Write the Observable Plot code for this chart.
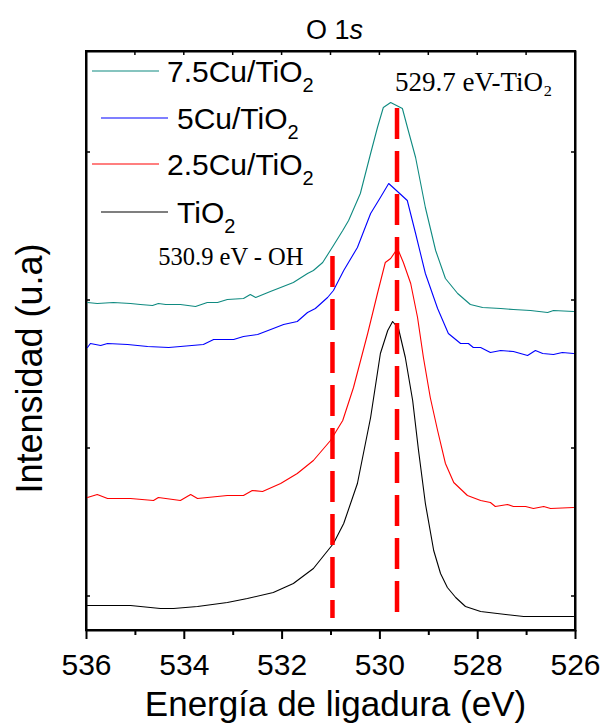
<!DOCTYPE html>
<html><head><meta charset="utf-8">
<script src="https://cdn.jsdelivr.net/npm/d3@7"></script>
<script src="https://cdn.jsdelivr.net/npm/@observablehq/plot@0.6"></script>
<style>html,body{margin:0;padding:0;background:#fff;}</style>
</head><body><div id="chart"></div>
<script>
// ---- data (binding energy in eV, intensity in arbitrary units) ----
const seriesNames = ["7.5Cu/TiO", "5Cu/TiO", "2.5Cu/TiO", "TiO"];
const seriesColors = ["#0f8a80", "#0000ff", "#ff0000", "#000000"];

const cu75E = [535.98,535.78,535.45,535.10,534.90,534.65,534.53,534.38,534.08,533.77,533.53,533.32,533.12,532.79,532.65,532.54,532.24,532.03,531.77,531.48,531.36,531.17,530.95,530.76,530.64,530.40,530.19,530.05,529.93,529.78,529.54,529.42,529.27,529.07,528.86,528.66,528.41,528.15,527.90,527.53,527.27,526.92,526.57,526.45,526.04];
const cu75I = [3280,3270,3280,3270,3260,3250,3270,3260,3260,3240,3280,3280,3310,3320,3360,3330,3390,3430,3480,3570,3600,3680,3850,4000,4100,4370,4770,5030,5230,5280,5220,5000,4730,4230,3800,3520,3370,3260,3230,3220,3210,3200,3180,3200,3190];

const cu5E = [535.98,535.92,535.71,535.57,535.16,534.75,534.32,534.08,533.61,533.40,532.99,532.79,532.50,532.18,531.97,531.69,531.48,531.32,531.07,530.95,530.74,530.46,530.19,529.99,529.82,529.64,529.44,529.27,529.07,528.82,528.60,528.35,528.19,528.09,527.94,527.74,527.53,527.27,526.98,526.82,526.67,526.45,526.27,526.04];
const cu5I = [2830,2870,2850,2870,2860,2840,2830,2840,2860,2910,2910,2940,2960,3020,3060,3090,3180,3220,3330,3400,3600,3830,4170,4330,4470,4390,4300,3970,3570,3220,2970,2870,2870,2830,2830,2780,2800,2790,2750,2800,2770,2760,2780,2770];

const cu25E = [535.98,535.78,535.57,535.10,534.63,534.53,534.08,533.87,533.73,533.12,532.79,532.61,532.40,532.03,531.69,531.36,531.01,530.76,530.54,530.25,530.05,529.89,529.78,529.64,529.52,529.37,529.23,529.11,528.97,528.82,528.66,528.49,528.21,527.94,527.74,527.64,527.39,527.27,527.02,526.86,526.65,526.51,526.04];
const cu25I = [1330,1360,1320,1320,1300,1330,1300,1360,1320,1350,1350,1400,1390,1470,1570,1700,1900,2100,2430,2970,3370,3680,3720,3820,3680,3470,3130,2730,2330,2000,1670,1480,1350,1300,1280,1240,1260,1240,1240,1220,1240,1220,1230];

const tio2E = [535.98,535.10,534.49,534.22,533.73,533.12,532.71,532.18,531.77,531.36,530.95,530.74,530.46,530.19,529.99,529.84,529.74,529.62,529.48,529.33,529.21,529.07,528.90,528.76,528.62,528.45,528.25,527.94,527.60,527.06,526.57,526.04];
const tio2I = [250,250,220,220,240,280,320,380,470,620,870,1070,1470,2130,2770,3000,3090,3020,2730,2300,1800,1270,800,570,430,330,240,190,170,140,140,140];

const xDomain = [536, 526];
const yDomain = [0, 5790];
const xMajorTicks = [536, 534, 532, 530, 528, 526];
const xMinorTicks = [535, 533, 531, 529, 527];
const yTicks = [340, 1820, 3300, 4780];

const refE = [529.65, 530.97];
const refTop = [5220, 3740];
const refBottom = [70, 120];
const refLabels = ["529.7 eV-TiO₂", "530.9 eV - OH"];

// ---- build tables ----
const toRows = (E, I) => E.map((e, i) => ({E: e, I: I[i]}));
const series = [toRows(cu75E, cu75I), toRows(cu5E, cu5I), toRows(cu25E, cu25I), toRows(tio2E, tio2I)];
const refs = refE.map((e, i) => ({E: e, top: refTop[i], bottom: refBottom[i], label: refLabels[i]}));

const sans = "'Liberation Sans', Arial, sans-serif";
const serif = "'Liberation Serif', 'DejaVu Serif', serif";

function overlay(index, scales, values, dims) {
  const {x, y} = scales;
  const left = dims.marginLeft, right = dims.width - dims.marginRight;
  const top = dims.marginTop, bottom = dims.height - dims.marginBottom;
  const g = d3.create("svg:g").attr("font-family", sans).attr("fill", "black").attr("text-anchor", "start");
  // inward ticks on top
  for (const t of [...xMajorTicks, ...xMinorTicks]) {
    g.append("line").attr("x1", x(t)).attr("x2", x(t)).attr("y1", top).attr("y2", top + 4)
      .attr("stroke", "black").attr("stroke-width", 1.5);
  }
  // inward ticks left/right
  for (const t of yTicks) {
    g.append("line").attr("x1", left).attr("x2", left + 4).attr("y1", y(t)).attr("y2", y(t))
      .attr("stroke", "black").attr("stroke-width", 1.5);
    g.append("line").attr("x1", right).attr("x2", right - 4).attr("y1", y(t)).attr("y2", y(t))
      .attr("stroke", "black").attr("stroke-width", 1.5);
  }
  // frame as four separate lines
  const sides = [
    [left - 1, top, right + 1, top],
    [right, top, right, bottom],
    [left - 1, bottom, right + 1, bottom],
    [left, top, left, bottom]
  ];
  for (const [x1, y1, x2, y2] of sides) {
    g.append("line").attr("x1", x1).attr("y1", y1).attr("x2", x2).attr("y2", y2)
      .attr("stroke", "black").attr("stroke-width", 2);
  }
  // title
  const title = g.append("text").attr("x", (left + right) / 2 + 4).attr("y", top - 12)
    .attr("text-anchor", "middle").attr("font-size", 27);
  title.append("tspan").text("O 1");
  title.append("tspan").attr("font-style", "italic").text("s");
  // axis titles
  g.append("text").attr("x", (left + right) / 2 + 5).attr("y", dims.height - 9)
    .attr("text-anchor", "middle").attr("font-size", 35).text("Energía de ligadura (eV)");
  g.append("text").attr("transform", `translate(42,${(top + bottom) / 2 + 28}) rotate(-90)`)
    .attr("text-anchor", "middle").attr("font-size", 36).text("Intensidad (u.a)");
  // legend
  const rows = [
    {lx: 6, tx: 81, y: 20},
    {lx: 15, tx: 91, y: 67},
    {lx: 6, tx: 81, y: 113},
    {lx: 15, tx: 91, y: 161}
  ];
  seriesNames.forEach((name, i) => {
    const r = rows[i];
    g.append("line").attr("x1", left + r.lx).attr("x2", left + r.lx + 67)
      .attr("y1", top + r.y).attr("y2", top + r.y)
      .attr("stroke", seriesColors[i]).attr("stroke-width", 1.2);
    const t = g.append("text").attr("x", left + r.tx).attr("y", top + r.y + 11)
      .attr("text-anchor", "start").attr("font-size", 30);
    t.append("tspan").text(name);
    t.append("tspan").attr("font-size", 20).attr("dy", 10).text("2");
  });
  return g.node();
}

const chart = Plot.plot({
  width: 605,
  height: 725,
  marginLeft: 86,
  marginRight: 30,
  marginTop: 51,
  marginBottom: 95,
  style: {fontFamily: sans, background: "white", color: "black"},
  x: {domain: xDomain},
  y: {domain: yDomain, axis: null},
  marks: [
    Plot.frame({stroke: "black", strokeWidth: 2}),
    ...series.map((rows, i) => Plot.line(rows, {x: "E", y: "I", stroke: seriesColors[i], strokeWidth: 1.1})),
    Plot.ruleX(refs, {x: "E", y1: "top", y2: "bottom", stroke: "#ff0000", strokeWidth: 4.5, strokeDasharray: "31,12"}),
    Plot.text([refs[0]], {x: "E", text: "label", frameAnchor: "top", dy: 39, dx: -2, lineAnchor: "bottom", textAnchor: "start", fontSize: 27, fontFamily: serif, fill: "black"}),
    Plot.text([refs[1]], {x: "E", text: "label", frameAnchor: "top", dy: 213, dx: -29, lineAnchor: "bottom", textAnchor: "end", fontSize: 24.5, fontFamily: serif, fill: "black"}),
    Plot.axisX({ticks: xMajorTicks, tickSize: 9, tickPadding: 14, fontSize: 30, strokeWidth: 2, label: null, tickFormat: d => String(d)}),
    Plot.axisX({ticks: xMinorTicks, tickSize: 5, strokeWidth: 2, label: null, tickFormat: () => ""}),
    overlay
  ]
});
document.getElementById("chart").appendChild(chart);
</script>
</body></html>
